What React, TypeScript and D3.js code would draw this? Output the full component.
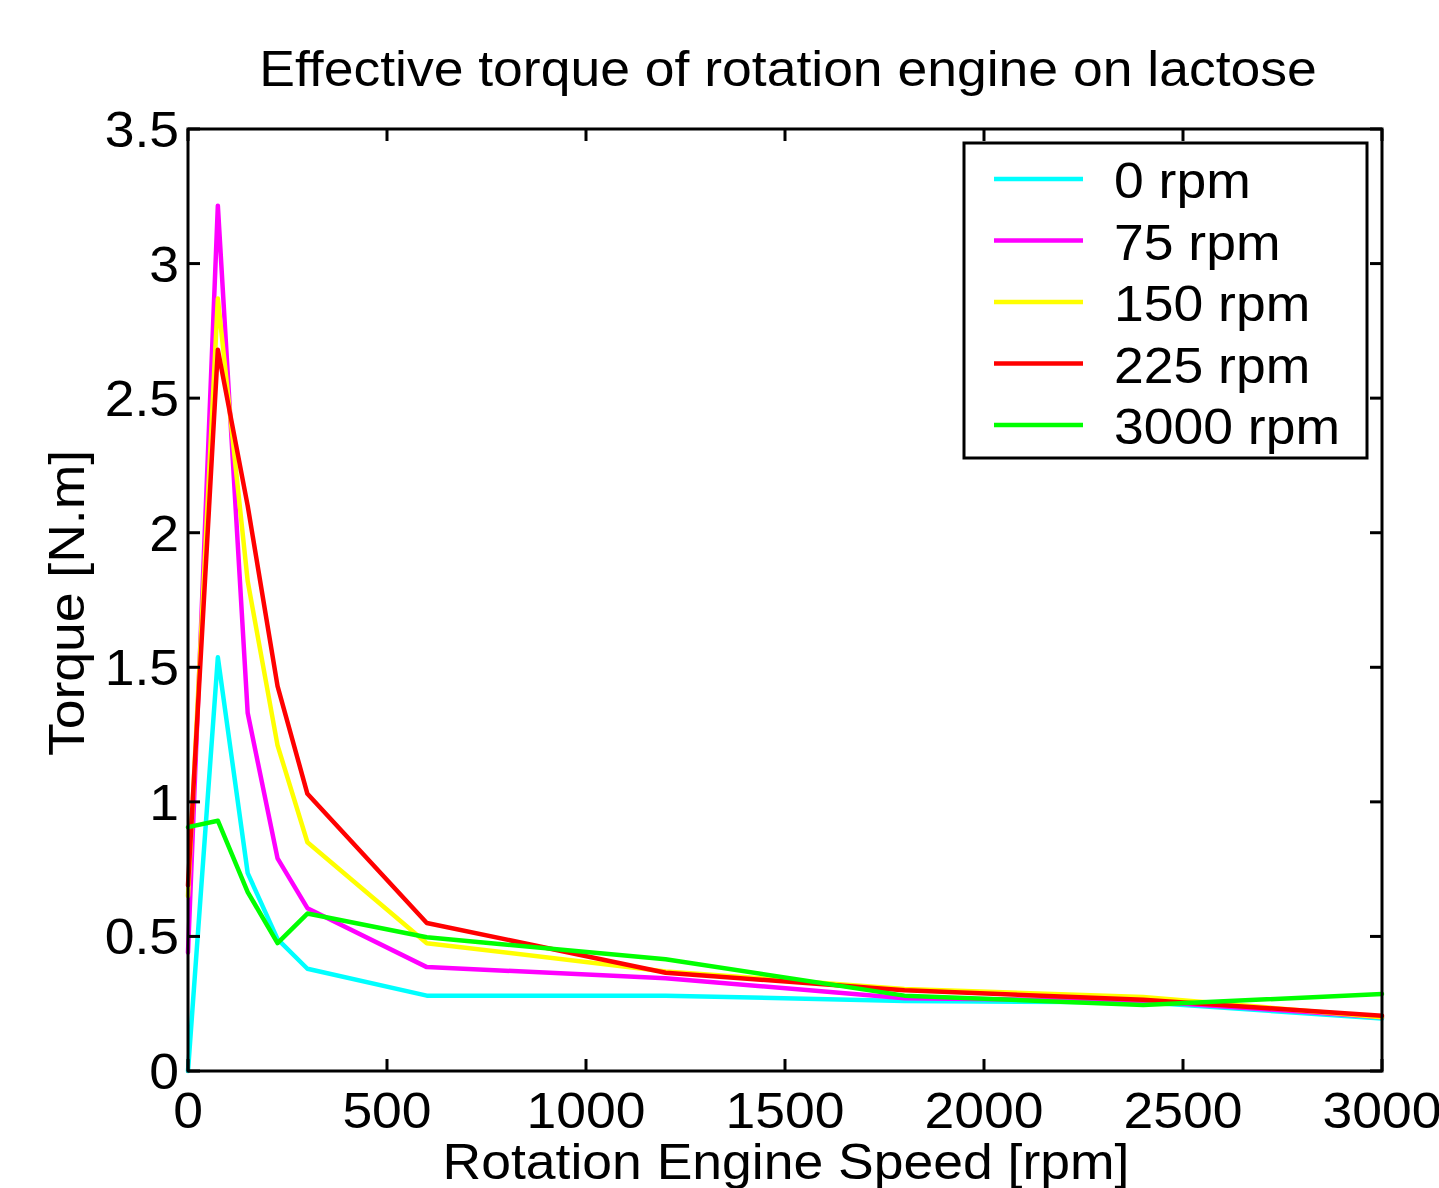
import React from "react";
import * as d3 from "d3";

const speeds = [0, 75, 150, 225, 300, 600, 1200, 1800, 2400, 3000];
const seriesNames = ["0 rpm", "75 rpm", "150 rpm", "225 rpm", "3000 rpm"];
const seriesColors = ["#00FFFF", "#FF00FF", "#FFFF00", "#FF0000", "#00FF00"];
const torque0 = [0, 1.537, 0.735, 0.49, 0.38, 0.28, 0.28, 0.26, 0.255, 0.195];
const torque75 = [0.44, 3.215, 1.33, 0.79, 0.605, 0.386, 0.345, 0.27, 0.26, 0.2];
const torque150 = [0.65, 2.87, 1.82, 1.21, 0.85, 0.475, 0.37, 0.305, 0.275, 0.2];
const torque225 = [0.69, 2.68, 2.1, 1.43, 1.03, 0.55, 0.365, 0.3, 0.265, 0.205];
const torque3000 = [0.906, 0.93, 0.665, 0.475, 0.585, 0.497, 0.415, 0.28, 0.245, 0.286];
const xTicks = [0, 500, 1000, 1500, 2000, 2500, 3000];
const yTicks = [0, 0.5, 1, 1.5, 2, 2.5, 3, 3.5];
const yTickLabels = ["0", "0.5", "1", "1.5", "2", "2.5", "3", "3.5"];

const allSeries = [torque0, torque75, torque150, torque225, torque3000];

const W = 1439;
const H = 1188;
const L = 188, R = 1382, T = 129, B = 1071;
const FONT = "'Liberation Sans', Arial, Helvetica, sans-serif";
const SX = 1.07;

function SText(props: {
  x: number;
  y: number;
  anchor?: "start" | "middle" | "end";
  rotate?: number;
  children: React.ReactNode;
}) {
  const { x, y, anchor = "start", rotate = 0, children } = props;
  return (
    <text
      transform={`translate(${x},${y}) rotate(${rotate}) scale(${SX},1)`}
      fontSize={50}
      textAnchor={anchor}
      fill="#000"
    >
      {children}
    </text>
  );
}

export default function App() {
  const x = d3.scaleLinear().domain([0, 3000]).range([L, R]);
  const y = d3.scaleLinear().domain([0, 3.5]).range([B, T]);
  const line = d3
    .line<number>()
    .x((_, i) => x(speeds[i]))
    .y((d) => y(d));

  const tickLen = 12;
  const legX = 964, legY = 143, legW = 403, legH = 315;
  const rowY0 = 179, rowStep = 61.5;

  return (
    <svg
      width={W}
      height={H}
      style={{ position: "absolute", left: 0, top: 0, display: "block", background: "#fff" }}
      fontFamily={FONT}
    >
      <rect x={0} y={0} width={W} height={H} fill="#fff" />
      <SText x={788} y={86} anchor="middle">
        Effective torque of rotation engine on lactose
      </SText>

      {allSeries.map((s, i) => (
        <path
          key={i}
          d={line(s) || ""}
          fill="none"
          stroke={seriesColors[i]}
          strokeWidth={4.5}
          strokeLinejoin="round"
          strokeLinecap="round"
        />
      ))}

      <rect x={L} y={T} width={R - L} height={B - T} fill="none" stroke="#000" strokeWidth={3} />

      {xTicks.map((t) => (
        <g key={"x" + t}>
          <line x1={x(t)} x2={x(t)} y1={B} y2={B - tickLen} stroke="#000" strokeWidth={3} />
          <line x1={x(t)} x2={x(t)} y1={T} y2={T + tickLen} stroke="#000" strokeWidth={3} />
          <SText x={x(t)} y={1128} anchor="middle">
            {t}
          </SText>
        </g>
      ))}
      {yTicks.map((t, i) => (
        <g key={"y" + t}>
          <line x1={L} x2={L + tickLen} y1={y(t)} y2={y(t)} stroke="#000" strokeWidth={3} />
          <line x1={R} x2={R - tickLen} y1={y(t)} y2={y(t)} stroke="#000" strokeWidth={3} />
          <SText x={179} y={y(t) + 18} anchor="end">
            {yTickLabels[i]}
          </SText>
        </g>
      ))}

      <SText x={84} y={603} anchor="middle" rotate={-90}>
        Torque [N.m]
      </SText>
      <SText x={786} y={1179} anchor="middle">
        Rotation Engine Speed [rpm]
      </SText>

      <rect x={legX} y={legY} width={legW} height={legH} fill="#fff" stroke="#000" strokeWidth={3} />
      {seriesNames.map((n, i) => (
        <g key={n}>
          <line
            x1={994}
            x2={1083}
            y1={rowY0 + i * rowStep}
            y2={rowY0 + i * rowStep}
            stroke={seriesColors[i]}
            strokeWidth={4.5}
          />
          <SText x={1114} y={rowY0 + i * rowStep + 19}>
            {n}
          </SText>
        </g>
      ))}
    </svg>
  );
}
